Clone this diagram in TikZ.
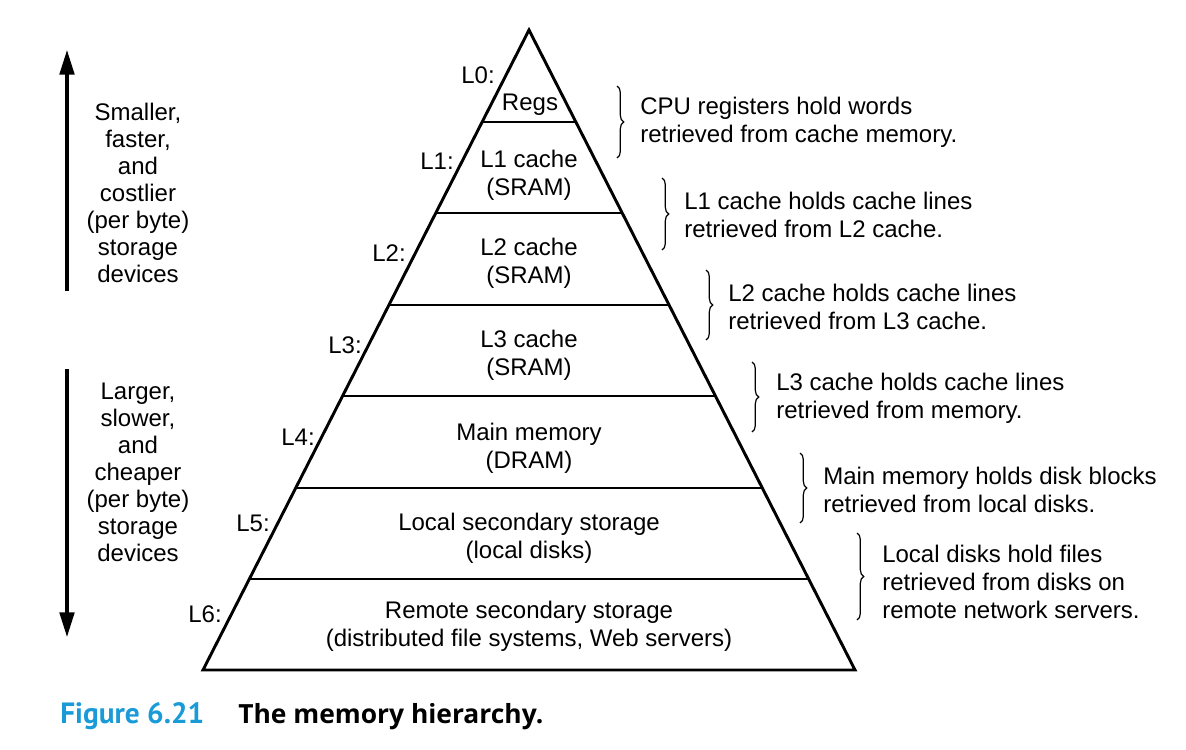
\documentclass[tikz,border=0pt]{standalone}
\usepackage{fontspec}
\setmainfont{Liberation Sans}
\newfontfamily\capfont{PT Sans}
\newfontfamily\titfont{Open Sans}
\usetikzlibrary{arrows.meta,decorations.pathreplacing}
\definecolor{capblue}{HTML}{1A9BD7}
\tikzset{
  lvl/.style={line width=2.2pt},
  txt/.style={font=\fontsize{18}{21}\selectfont, inner sep=0pt, align=center},
  rtxt/.style={font=\fontsize{18}{21}\selectfont, inner sep=0pt, align=left, anchor=west},
  lbl/.style={font=\fontsize{18}{21}\selectfont, inner sep=0pt, anchor=east},
  side/.style={font=\fontsize{18}{20.25}\selectfont, inner sep=0pt, align=center},
  brc/.style={line width=0.9pt, decorate, decoration={brace, amplitude=5pt}},
  bigarrow/.style={line width=2.3pt, -{Triangle[length=18.5pt,width=11pt]}}
}
\begin{document}
\begin{tikzpicture}[x=0.75pt,y=-0.75pt]
\useasboundingbox (0,0) rectangle (1186,750);
% pyramid
\coordinate (apex) at (529,30);
\coordinate (bl) at (203,670);
\coordinate (br) at (855,670);
\draw[lvl, line join=miter] (bl) -- (apex) -- (br) -- cycle;
\draw[lvl] (482.1,122) -- (575.9,122);
\draw[lvl] (435.8,213) -- (622.2,213);
\draw[lvl] (388.9,305) -- (669.1,305);
\draw[lvl] (342.6,396) -- (715.4,396);
\draw[lvl] (295.7,488) -- (762.3,488);
\draw[lvl] (249.4,579) -- (808.6,579);
% level texts
\node[txt] (t0) at (530,105) {Regs};
\node[txt] (t1) at (529,175) {L1 cache\\(SRAM)};
\node[txt] (t2) at (529,263) {L2 cache\\(SRAM)};
\node[txt] (t3) at (529,355) {L3 cache\\(SRAM)};
\node[txt] (t4) at (529,448) {Main memory\\(DRAM)};
\node[txt] (t5) at (529,538) {Local secondary storage\\(local disks)};
\node[txt] (t6) at (529,626) {Remote secondary storage\\(distributed file systems, Web servers)};
% level labels
\node[lbl] (l0) at (495,75) {L0:};
\node[lbl] (l1) at (454,161) {L1:};
\node[lbl] (l2) at (406,253) {L2:};
\node[lbl] (l3) at (362,345) {L3:};
\node[lbl] (l4) at (315,437) {L4:};
\node[lbl] (l5) at (270,523) {L5:};
\node[lbl] (l6) at (222,614) {L6:};
% braces
\coordinate (b0t) at (617,86);  \coordinate (b0b) at (617,158);
\coordinate (b1t) at (662,178); \coordinate (b1b) at (662,250);
\coordinate (b2t) at (706,270); \coordinate (b2b) at (706,340);
\coordinate (b3t) at (752,362); \coordinate (b3b) at (752,432);
\coordinate (b4t) at (800,453); \coordinate (b4b) at (800,523);
\coordinate (b5t) at (857,533); \coordinate (b5b) at (857,620);
\draw[brc] (b0t) -- (b0b);
\draw[brc] (b1t) -- (b1b);
\draw[brc] (b2t) -- (b2b);
\draw[brc] (b3t) -- (b3b);
\draw[brc] (b4t) -- (b4b);
\draw[brc] (b5t) -- (b5b);
\node[rtxt] (d0) at (640,122) {CPU registers hold words\\retrieved from cache memory.};
\node[rtxt] (d1) at (684,215) {L1 cache holds cache lines\\retrieved from L2 cache.};
\node[rtxt] (d2) at (728,307) {L2 cache holds cache lines\\retrieved from L3 cache.};
\node[rtxt] (d3) at (776,398) {L3 cache holds cache lines\\retrieved from memory.};
\node[rtxt] (d4) at (823,490) {Main memory holds disk blocks\\retrieved from local disks.};
\node[rtxt] (d5) at (882,582) {Local disks hold files\\retrieved from disks on\\remote network servers.};
% side arrows
\coordinate (upb) at (67,291);
\coordinate (upt) at (67,50);
\coordinate (dnt) at (67,369);
\coordinate (dnb) at (67,637);
\draw[bigarrow] (upb) -- (upt);
\draw[bigarrow] (dnt) -- (dnb);
\node[side] (s1) at (138,193) {Smaller,\\faster,\\and\\costlier\\(per byte)\\storage\\devices};
\node[side] (s2) at (138,472) {Larger,\\slower,\\and\\cheaper\\(per byte)\\storage\\devices};
% caption
\node[anchor=base west, inner sep=0pt, text=capblue, font=\capfont\bfseries\fontsize{22}{26}\selectfont] (cap) at (60,723) {Figure 6.21};
\node[anchor=base west, inner sep=0pt, font=\titfont\bfseries\fontsize{19.8}{24}\selectfont] (tit) at (238,723) {The memory hierarchy.};
\end{tikzpicture}
\end{document}
